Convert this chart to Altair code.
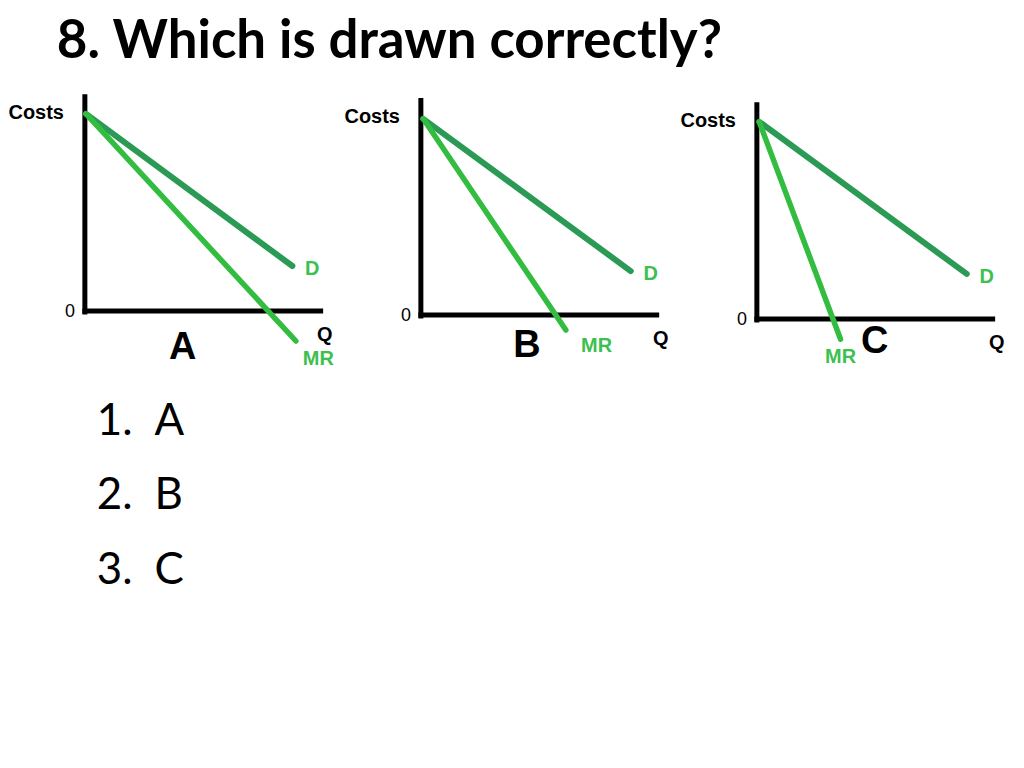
import altair as alt
import pandas as pd

# ---- data (economic units: Q and Costs) ----
panels = ["A", "B", "C"]
d_start_q = [0.05, 0.1, 0.1]
d_start_cost = [9.2, 9.15, 9.2]
d_end_q = [8.8, 8.9, 8.9]
d_end_cost = [2.1, 2.05, 2.1]
mr_end_q = [8.95, 6.15, 3.55]
mr_end_cost = [-1.4, -0.7, -0.95]
cost_axis_top = [10.0, 10.0, 10.0]
q_axis_end = [10.0, 10.0, 10.0]
mr_label_q = [9.9, 7.45, 3.55]
mr_label_cost = [-2.25, -1.45, -1.8]
letter_q = [4.15, 4.5, 5.0]
letter_cost = [-1.75, -1.45, -1.1]

answer_nums = ["1.", "2.", "3."]
answer_letters = ["A", "B", "C"]

TITLE = "8. Which is drawn correctly?"

D_COLOR = "#2b9a55"
MR_COLOR = "#33bd40"
LABEL_GREEN = "#3cc04f"
LABEL_FONT = "Liberation Sans"

PANEL_W, PANEL_H = 337, 300
X_DOMAIN = [-3.26, 10.99]
Y_DOMAINS = [[-3.63, 10.33], [-3.44, 10.51], [-3.26, 10.70]]


def panel(i):
    seg = pd.DataFrame({
        "series": ["D", "MR"],
        "q0": [d_start_q[i], d_start_q[i]],
        "c0": [d_start_cost[i], d_start_cost[i]],
        "q1": [d_end_q[i], mr_end_q[i]],
        "c1": [d_end_cost[i], mr_end_cost[i]],
    })
    axes = pd.DataFrame({
        "q0": [0.0, 0.0],
        "c0": [-0.05, 0.0],
        "q1": [0.0, q_axis_end[i]],
        "c1": [cost_axis_top[i], 0.0],
    })
    xs = alt.Scale(domain=X_DOMAIN, nice=False, zero=False)
    ys = alt.Scale(domain=Y_DOMAINS[i], nice=False, zero=False)

    def X(f):
        return alt.X(f + ":Q", scale=xs, axis=None)

    def Y(f):
        return alt.Y(f + ":Q", scale=ys, axis=None)

    axis_layer = alt.Chart(axes).mark_rule(
        color="black", strokeWidth=5, strokeCap="square"
    ).encode(x=X("q0"), y=Y("c0"), x2="q1:Q", y2="c1:Q")

    d_layer = alt.Chart(seg).transform_filter(alt.datum.series == "D").mark_rule(
        color=D_COLOR, strokeWidth=6, strokeCap="round"
    ).encode(x=X("q0"), y=Y("c0"), x2="q1:Q", y2="c1:Q")

    mr_layer = alt.Chart(seg).transform_filter(alt.datum.series == "MR").mark_rule(
        color=MR_COLOR, strokeWidth=5.5, strokeCap="round"
    ).encode(x=X("q0"), y=Y("c0"), x2="q1:Q", y2="c1:Q")

    costs = alt.Chart(pd.DataFrame({"q": [0.0], "c": [cost_axis_top[i]], "t": ["Costs"]})).mark_text(
        font=LABEL_FONT, fontSize=20, fontWeight="bold", color="black",
        align="right", baseline="middle", dx=-21, dy=16
    ).encode(x=X("q"), y=Y("c"), text="t:N")

    zero = alt.Chart(pd.DataFrame({"q": [0.0], "c": [0.0], "t": ["0"]})).mark_text(
        font=LABEL_FONT, fontSize=18, color="black",
        align="center", baseline="middle", dx=-15, dy=1
    ).encode(x=X("q"), y=Y("c"), text="t:N")

    qlab = alt.Chart(pd.DataFrame({"q": [q_axis_end[i]], "c": [0.0], "t": ["Q"]})).mark_text(
        font=LABEL_FONT, fontSize=20, fontWeight="bold", color="black",
        align="center", baseline="middle", dx=4, dy=24
    ).encode(x=X("q"), y=Y("c"), text="t:N")

    dlab = alt.Chart(pd.DataFrame({"q": [d_end_q[i]], "c": [d_end_cost[i]], "t": ["D"]})).mark_text(
        font=LABEL_FONT, fontSize=20, fontWeight="bold", color=LABEL_GREEN,
        align="center", baseline="middle", dx=20, dy=3
    ).encode(x=X("q"), y=Y("c"), text="t:N")

    mrlab = alt.Chart(pd.DataFrame({"q": [mr_label_q[i]], "c": [mr_label_cost[i]], "t": ["MR"]})).mark_text(
        font=LABEL_FONT, fontSize=20, fontWeight="bold", color=LABEL_GREEN,
        align="center", baseline="middle"
    ).encode(x=X("q"), y=Y("c"), text="t:N")

    letter = alt.Chart(pd.DataFrame({"q": [letter_q[i]], "c": [letter_cost[i]], "t": [panels[i]]})).mark_text(
        font=LABEL_FONT, fontSize=38, fontWeight="bold", color="black",
        align="center", baseline="middle"
    ).encode(x=X("q"), y=Y("c"), text="t:N")

    return alt.layer(
        axis_layer, d_layer, mr_layer, costs, zero, qlab, dlab, mrlab, letter
    ).properties(width=PANEL_W, height=PANEL_H)


row = alt.hconcat(*[panel(i) for i in range(3)], spacing=0, bounds="flush")

ans_df = pd.DataFrame({"n": [0, 1, 2], "num": answer_nums, "let": answer_letters})
ans_y = alt.Y("n:O", axis=None, scale=alt.Scale(padding=0.5))
answers_nums = alt.Chart(ans_df).mark_text(
    font="Lato", fontSize=44, color="black", align="left", baseline="alphabetic", dy=9
).encode(x=alt.value(89), y=ans_y, text="num:N")
answers_lets = alt.Chart(ans_df).mark_text(
    font="Lato", fontSize=44, color="black", align="left", baseline="alphabetic", dy=9
).encode(x=alt.value(147), y=ans_y, text="let:N")
answers = alt.layer(answers_nums, answers_lets).properties(width=1008, height=224)

chart = alt.vconcat(row, answers, spacing=0).properties(
    title=alt.TitleParams(
        text=TITLE, anchor="start", font="Lato", fontSize=53, fontWeight="bold",
        color="black", dx=49, offset=21, baseline="top"
    ),
    padding={"top": 7, "left": 0, "right": 0, "bottom": 0},
    background="white",
).configure_view(strokeWidth=0)

chart.save("out.html", embed_options={"renderer": "svg", "actions": False})
